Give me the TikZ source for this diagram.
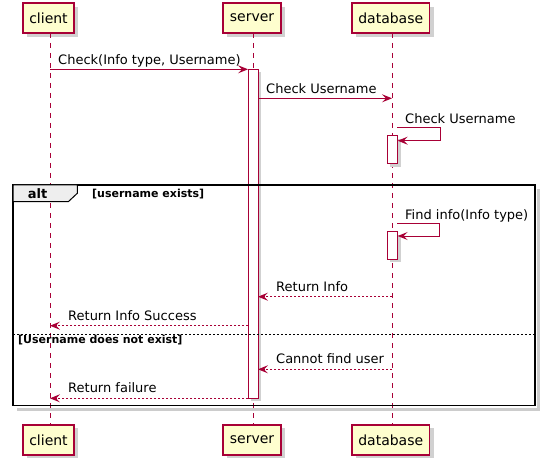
\documentclass[tikz,border=0pt]{standalone}
\usepackage{fontspec}
\setmainfont{DejaVu Sans}
\usetikzlibrary{arrows.meta}
\definecolor{umlred}{HTML}{A80036}
\definecolor{umlfill}{HTML}{FEFECE}
\definecolor{umltab}{HTML}{EEEEEE}
\begin{document}
\begin{tikzpicture}[x=1pt,y=-1pt]
\tikzstyle{part} = [draw=umlred,fill=umlfill,line width=1.5pt,inner sep=0pt,minimum height=30pt,font=\fontsize{14}{16}\selectfont]
\tikzstyle{shade} = [fill=black!18]
\tikzstyle{actbar} = [draw=umlred,fill=white,line width=1pt]
\tikzstyle{msg} = [umlred,line width=1pt,-{Stealth[length=10pt,width=8pt,inset=4pt]}]
\tikzstyle{ret} = [msg,dash pattern=on 2pt off 2pt]
\tikzstyle{lbl} = [anchor=base west,inner sep=0pt,font=\fontsize{13}{15}\selectfont]
\tikzstyle{guard} = [inner sep=0pt,font=\fontsize{11}{13}\selectfont\bfseries]
\pgfmathsetmacro \xc {50};
\pgfmathsetmacro \xs {253};
\pgfmathsetmacro \xd {392};
\useasboundingbox (0,0) rectangle (545,462);
	% shadows of the participants
	\foreach \l/\r in {27/78, 227/285, 356/433.5} {
		\fill[shade] (\l,7) rectangle (\r,37);
		\fill[shade] (\l,428) rectangle (\r,458);
	}
	% lifelines
	\foreach \x in {\xc,\xs,\xd}
		\draw[umlred,line width=1pt,dash pattern=on 5pt off 5pt] (\x,33) -- (\x,425);
	% participants, top and bottom
	\node[part,minimum width=51pt] (cltT) at (48.5,18) {client};
	\node[part,minimum width=58pt] (srvT) at (252,18) {server};
	\node[part,minimum width=77.5pt] (dbT) at (390.75,18) {database};
	\node[part,minimum width=51pt] (cltB) at (48.5,440) {client};
	\node[part,minimum width=58pt] (srvB) at (252,440) {server};
	\node[part,minimum width=77.5pt] (dbB) at (390.75,440) {database};
	% activations
	\fill[shade] (251,72) rectangle (261,401);
	\draw[actbar] (248,69.3) rectangle (258,398.3);
	\fill[shade] (390.3,138.7) rectangle (400.7,166.7);
	\draw[actbar] (387.3,135.7) rectangle (397.7,163.7);
	\fill[shade] (390.3,234.7) rectangle (400.7,262);
	\draw[actbar] (387.3,231.7) rectangle (397.7,259);
	% message ends
	\coordinate (c1) at (\xc,69.3);   \coordinate (s1) at (248,69.3);
	\coordinate (s2) at (258,98.3);   \coordinate (d2) at (\xd,98.3);
	\coordinate (d3) at (397,127.3);  \coordinate (e3) at (440,140.7);  \coordinate (a3) at (397.7,140.7);
	\coordinate (d5) at (397,223.3);  \coordinate (e5) at (439.3,236);  \coordinate (a5) at (397.7,236);
	\coordinate (d6) at (\xd,296.7);  \coordinate (s6) at (258,296.7);
	\coordinate (s7) at (248,325.7);  \coordinate (c7) at (\xc,325.7);
	\coordinate (d9) at (\xd,369.3);  \coordinate (s9) at (258,369.3);
	\coordinate (s10) at (248,398.3); \coordinate (c10) at (\xc,398.3);
	\draw[msg] (c1) -- (s1);
	\node[lbl] (t1) at (58,64.3) {Check(Info type, Username)};
	\draw[msg] (s2) -- (d2);
	\node[lbl] (t2) at (266,93.3) {Check Username};
	\draw[msg] (d3) -| (e3) -- (a3);
	\node[lbl] (t3) at (405,123.3) {Check Username};
	% alt frame
	\draw[black!20,line width=3pt] (538.5,189) -- (538.5,409.2) -- (17,409.2);
	\draw[line width=1.5pt] (13,185) rectangle (535,405.7);
	\filldraw[fill=umltab,draw=black,line width=1pt] (13,185) -- (77.3,185) -- (77.3,193.3) -- (68.3,201.7) -- (13,201.7) -- cycle;
	\node[guard,font=\fontsize{13}{15}\selectfont\bfseries] (alt) at (37.5,194) {alt};
	\node[guard,anchor=west] (g1) at (92,194) {[username exists]};
	\draw[msg] (d5) -| (e5) -- (a5);
	\node[lbl] (t5) at (405,219.3) {Find info(Info type)};
	\draw[ret] (d6) -- (s6);
	\node[lbl] (t6) at (276,291) {Return Info};
	\draw[ret] (s7) -- (c7);
	\node[lbl] (t7) at (68,320.3) {Return Info Success};
	\draw[line width=.8pt,dash pattern=on 2pt off 2pt] (13,334.3) -- (535,334.3);
	\node[guard,anchor=west] (g2) at (18,340) {[Username does not exist]};
	\draw[ret] (d9) -- (s9);
	\node[lbl] (t9) at (276,363.6) {Cannot find user};
	\draw[ret] (s10) -- (c10);
	\node[lbl] (t10) at (68,392.6) {Return failure};
\end{tikzpicture}
\end{document}
